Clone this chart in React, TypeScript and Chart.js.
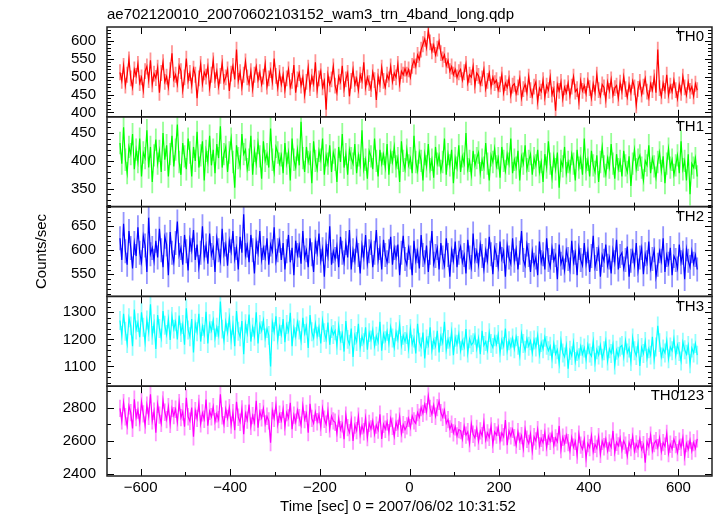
import React, { useEffect, useRef } from "react";
import { Chart, registerables } from "chart.js";

Chart.register(...registerables);

const TITLE = "ae702120010_20070602103152_wam3_trn_4band_long.qdp";
const X_LABEL = "Time [sec] 0 = 2007/06/02 10:31:52";
const Y_LABEL = "Counts/sec";

const PANEL_NAMES = ["TH0", "TH1", "TH2", "TH3", "TH0123"];
const PANEL_COLORS = ["#ff0000", "#00ff00", "#0000ff", "#00ffff", "#ff00ff"];
const PANEL_PALE = [
  "rgba(255,60,60,0.55)",
  "rgba(60,255,60,0.55)",
  "rgba(60,60,255,0.55)",
  "rgba(60,255,255,0.55)",
  "rgba(255,60,255,0.55)",
];
// 1-sigma error of each band (counts/sec)
const Y_ERR = [22, 20, 25, 35, 52];
const Y_MIN = [388, 318, 504, 1027, 2390];
const Y_MAX = [638, 479, 691, 1359, 2928];
const Y_TICKS = [
  [400, 450, 500, 550, 600],
  [350, 400, 450],
  [550, 600, 650],
  [1100, 1200, 1300],
  [2400, 2600, 2800],
];
const Y_MAJOR = [50, 50, 50, 100, 200];
const Y_MINOR = [10, 10, 10, 20, 100];

const X_MIN = -675;
const X_MAX = 675;
const X_TICKS = [-600, -400, -200, 0, 200, 400, 600];
const X_MAJOR = 200;
const X_MINOR = 100;

// light-curve bins: start time and bin width (sec)
const BIN_START = -646;
const BIN_SIZE = 4;

const TH0 = [
  512, 488, 530, 475, 505, 548, 495, 470, 520, 502,
  535, 482, 498, 462, 515, 528, 490, 545, 478, 508,
  496, 525, 455, 510, 540, 485, 500, 470, 518, 565,
  492, 505, 478, 530, 515, 462, 498, 550, 488, 510,
  475, 522, 505, 440, 495, 535, 480, 512, 500, 528,
  468, 505, 545, 490, 515, 472, 502, 538, 485, 498,
  520, 460, 508, 530, 492, 575, 488, 512, 470, 505,
  542, 498, 480, 515, 465, 505, 528, 490, 512, 478,
  500, 535, 472, 495, 518, 485, 550, 502, 468, 510,
  478, 505, 462, 495, 520, 470, 488, 532, 455, 492,
  510, 475, 498, 448, 485, 525, 468, 500, 480, 540,
  462, 495, 515, 470, 488, 408, 505, 478, 492, 528,
  475, 455, 500, 485, 530, 465, 492, 510, 445, 488,
  520, 478, 495, 462, 505, 488, 540, 470, 498, 482,
  465, 512, 490, 435, 500, 478, 525, 488, 470, 505,
  492, 528, 485, 510, 498, 535, 480, 515, 505, 522,
  505, 520, 498, 530, 545, 528, 560, 548, 575, 590,
  605, 580, 628, 595, 570, 588, 560, 578, 598, 565,
  548, 560, 530, 545, 515, 528, 505, 520, 498, 512,
  520, 490, 512, 535, 482, 505, 498, 528, 475, 510,
  502, 478, 495, 520, 465, 488, 510, 472, 498, 482,
  490, 462, 478, 505, 455, 482, 470, 495, 448, 475,
  480, 452, 470, 495, 440, 465, 478, 455, 500, 462,
  445, 472, 485, 430, 468, 458, 490, 442, 475, 462,
  498, 450, 466, 405, 478, 460, 485, 438, 470, 455,
  482, 445, 472, 500, 458, 465, 430, 488, 460, 475,
  452, 490, 468, 440, 480, 455, 505, 462, 445, 478,
  470, 435, 485, 460, 492, 448, 468, 475, 440, 483,
  458, 500, 465, 442, 478, 455, 488, 470, 420, 466,
  485, 450, 472, 495, 458, 440, 480, 462, 498, 455,
  575, 468, 445, 482, 460, 505, 448, 475, 458, 490,
  462, 438, 478, 455, 500, 470, 448, 485, 460, 472,
  445, 480, 462,
];

const TH1 = [
  432, 395, 460, 402, 378, 425, 412, 448, 385, 420,
  398, 440, 372, 415, 405, 455, 388, 425, 362, 410,
  438, 395, 418, 380, 450, 402, 428, 372, 412, 445,
  390, 420, 465, 398, 375, 432, 408, 385, 440, 415,
  372, 425, 400, 452, 388, 410, 435, 365, 418, 398,
  445, 392, 420, 378, 430, 405, 462, 388, 412, 425,
  380, 415, 440, 398, 352, 428, 405, 390, 448, 412,
  420, 385, 402, 445, 375, 418, 395, 432, 408, 368,
  435, 400, 412, 388, 458, 402, 380, 425, 415, 395,
  410, 378, 432, 395, 415, 365, 440, 402, 388, 420,
  392, 470, 405, 380, 425, 398, 412, 360, 435, 400,
  385, 418, 402, 440, 375, 410, 395, 428, 380, 415,
  402, 362, 425, 398, 448, 388, 412, 375, 420, 405,
  395, 430, 378, 410, 392, 455, 385, 402, 368, 418,
  408, 385, 440, 400, 372, 420, 395, 412, 388, 430,
  375, 415, 398, 425, 390, 405, 362, 435, 400, 385,
  420, 392, 405, 378, 445, 398, 382, 415, 400, 365,
  412, 390, 430, 385, 402, 370, 425, 395, 410, 382,
  398, 440, 375, 412, 392, 420, 360, 405, 388, 428,
  380, 408, 395, 450, 385, 400, 375, 418, 392, 405,
  415, 378, 402, 388, 432, 395, 365, 410, 398, 422,
  390, 405, 370, 425, 400, 382, 412, 395, 440, 378,
  402, 388, 418, 365, 408, 395, 428, 385, 400, 412,
  375, 405, 392, 420, 380, 398, 362, 412, 388, 435,
  395, 370, 408, 385, 415, 352, 400, 390, 425, 378,
  398, 382, 412, 395, 365, 420, 388, 405, 375, 440,
  385, 402, 372, 418, 392, 380, 410, 362, 398, 425,
  390, 375, 405, 388, 430, 395, 368, 412, 385, 400,
  372, 418, 392, 380, 408, 355, 395, 420, 385, 402,
  410, 388, 365, 400, 392, 428, 378, 405, 390, 370,
  398, 415, 382, 408, 360, 395, 422, 388, 402, 375,
  392, 410, 378, 435, 385, 400, 365, 412, 340, 395,
  388, 405, 372,
];

const TH2 = [
  625, 580, 655, 598, 570, 640, 605, 562, 615, 588,
  648, 595, 575, 630, 610, 555, 668, 592, 605, 578,
  620, 585, 645, 600, 565, 628, 612, 548, 638, 595,
  575, 615, 660, 590, 605, 570, 632, 598, 558, 622,
  600, 642, 580, 612, 565, 595, 650, 585, 610, 572,
  635, 590, 605, 555, 625, 600, 578, 645, 592, 612,
  568, 620, 598, 640, 582, 605, 560, 628, 595, 675,
  590, 610, 575, 632, 600, 552, 618, 595, 640, 580,
  605, 585, 625, 570, 612, 598, 648, 578, 600, 620,
  580, 615, 560, 598, 632, 575, 605, 548, 620, 590,
  610, 572, 640, 585, 600, 565, 625, 592, 555, 618,
  595, 635, 578, 602, 545, 612, 588, 650, 570, 598,
  582, 608, 565, 628, 595, 575, 615, 585, 642, 560,
  600, 578, 620, 590, 552, 610, 585, 632, 572, 598,
  615, 565, 595, 642, 580, 605, 560, 622, 590, 575,
  598, 628, 570, 605, 585, 612, 548, 595, 630, 582,
  570, 605, 585, 548, 620, 578, 598, 562, 632, 590,
  575, 610, 555, 595, 640, 572, 588, 605, 560, 615,
  585, 568, 625, 590, 545, 600, 578, 618, 565, 595,
  608, 575, 590, 552, 622, 585, 565, 635, 580, 598,
  570, 612, 588, 560, 600, 578, 628, 592, 550, 605,
  590, 565, 618, 582, 598, 545, 610, 585, 572, 625,
  578, 602, 560, 595, 640, 580, 568, 612, 590, 555,
  598, 570, 585, 548, 618, 575, 592, 560, 625, 580,
  565, 605, 578, 590, 540, 612, 572, 585, 558, 600,
  582, 560, 620, 575, 595, 548, 605, 580, 568, 615,
  572, 598, 555, 588, 630, 565, 582, 602, 545, 590,
  578, 612, 568, 585, 552, 600, 575, 622, 560, 588,
  595, 562, 580, 608, 545, 578, 598, 570, 615, 558,
  585, 605, 550, 592, 575, 618, 562, 582, 600, 545,
  570, 598, 578, 625, 555, 590, 572, 605, 548, 588,
  580, 562, 612, 575, 595, 540, 602, 578, 565, 598,
  572, 590, 560,
];

const TH3 = [
  1270, 1215, 1295, 1230, 1185, 1280, 1250, 1175, 1310, 1235,
  1262, 1208, 1300, 1245, 1190, 1272, 1228, 1330, 1215, 1258,
  1165, 1290, 1240, 1205, 1305, 1252, 1218, 1275, 1198, 1285,
  1238, 1265, 1200, 1288, 1225, 1255, 1180, 1315, 1235, 1210,
  1275, 1152, 1260, 1228, 1295, 1192, 1248, 1218, 1302, 1185,
  1258, 1232, 1270, 1205, 1245, 1215, 1340, 1238, 1195, 1265,
  1225, 1280, 1198, 1252, 1175, 1305, 1230, 1210, 1268, 1145,
  1258, 1222, 1292, 1192, 1245, 1212, 1300, 1185, 1255, 1232,
  1270, 1205, 1240, 1215, 1100, 1262, 1228, 1285, 1198, 1248,
  1218, 1275, 1190, 1255, 1230, 1298, 1175, 1242, 1210, 1265,
  1235, 1195, 1280, 1222, 1250, 1168, 1290, 1228, 1205, 1258,
  1212, 1245, 1185, 1270, 1225, 1200, 1262, 1180, 1240, 1218,
  1232, 1178, 1250, 1195, 1222, 1155, 1268, 1200, 1182, 1240,
  1135, 1215, 1192, 1258, 1170, 1210, 1188, 1245, 1162, 1225,
  1198, 1235, 1175, 1212, 1190, 1265, 1158, 1220, 1195, 1230,
  1185, 1245, 1205, 1170, 1228, 1198, 1255, 1178, 1215, 1192,
  1218, 1165, 1240, 1182, 1205, 1148, 1258, 1190, 1172, 1225,
  1130, 1202, 1178, 1245, 1160, 1198, 1175, 1232, 1152, 1212,
  1188, 1265, 1162, 1200, 1175, 1228, 1142, 1208, 1182, 1220,
  1158, 1195, 1172, 1238, 1150, 1202, 1180, 1188, 1215, 1165,
  1205, 1145, 1232, 1178, 1192, 1160, 1225, 1185, 1170, 1210,
  1182, 1218, 1150, 1198, 1175, 1240, 1158, 1195, 1172, 1205,
  1165, 1210, 1178, 1138, 1222, 1185, 1160, 1202, 1175, 1195,
  1150, 1198, 1172, 1215, 1145, 1188, 1165, 1208, 1178, 1158,
  1175, 1128, 1185, 1145, 1162, 1110, 1195, 1150, 1135, 1178,
  1092, 1160, 1140, 1188, 1118, 1155, 1132, 1175, 1145, 1168,
  1125, 1180, 1150, 1138, 1192, 1115, 1162, 1142, 1178, 1130,
  1158, 1195, 1120, 1165, 1148, 1182, 1105, 1160, 1138, 1172,
  1178, 1135, 1195, 1150, 1168, 1118, 1205, 1158, 1140, 1185,
  1102, 1170, 1148, 1192, 1130, 1165, 1142, 1210, 1125, 1172,
  1250, 1188, 1135, 1165, 1150, 1195, 1128, 1172, 1158, 1202,
  1140, 1180, 1155, 1120, 1190, 1162, 1145, 1178, 1110, 1168,
  1150, 1185, 1142,
];

const TH0123 = [
  2795, 2720, 2830, 2745, 2690, 2810, 2770, 2675, 2850, 2740,
  2785, 2710, 2835, 2762, 2695, 2815, 2748, 2880, 2720, 2778,
  2650, 2820, 2755, 2705, 2845, 2772, 2728, 2805, 2700, 2795,
  2752, 2790, 2712, 2830, 2740, 2775, 2685, 2858, 2745, 2718,
  2800, 2625, 2782, 2735, 2825, 2702, 2768, 2730, 2848, 2692,
  2778, 2745, 2805, 2715, 2762, 2728, 2880, 2750, 2698, 2790,
  2735, 2800, 2695, 2770, 2665, 2835, 2742, 2712, 2792, 2640,
  2765, 2725, 2818, 2688, 2752, 2710, 2840, 2680, 2775, 2738,
  2795, 2702, 2748, 2720, 2590, 2782, 2735, 2815, 2698, 2760,
  2722, 2790, 2685, 2770, 2738, 2828, 2670, 2755, 2712, 2785,
  2740, 2695, 2810, 2728, 2765, 2650, 2822, 2735, 2705, 2772,
  2715, 2758, 2682, 2795, 2730, 2700, 2780, 2672, 2748, 2720,
  2712, 2645, 2735, 2668, 2702, 2610, 2755, 2680, 2650, 2725,
  2600, 2695, 2662, 2748, 2635, 2690, 2655, 2738, 2620, 2705,
  2672, 2720, 2640, 2695, 2665, 2760, 2612, 2700, 2670, 2715,
  2650, 2735, 2688, 2628, 2712, 2675, 2748, 2642, 2698, 2668,
  2690, 2735, 2680, 2750, 2720, 2705, 2770, 2742, 2800, 2765,
  2820, 2775, 2870, 2795, 2760, 2815, 2748, 2800, 2838, 2770,
  2742, 2785, 2705, 2728, 2672, 2700, 2648, 2685, 2630, 2668,
  2662, 2610, 2688, 2635, 2655, 2585, 2702, 2640, 2618, 2675,
  2598, 2660, 2632, 2712, 2605, 2648, 2622, 2690, 2580, 2655,
  2635, 2682, 2600, 2648, 2625, 2725, 2575, 2660, 2630, 2670,
  2620, 2575, 2655, 2598, 2632, 2555, 2670, 2610, 2585, 2642,
  2540, 2625, 2600, 2668, 2570, 2615, 2590, 2652, 2560, 2628,
  2598, 2645, 2572, 2618, 2595, 2690, 2548, 2622, 2585, 2635,
  2590, 2540, 2620, 2562, 2598, 2515, 2640, 2575, 2550, 2608,
  2495, 2585, 2560, 2632, 2535, 2580, 2555, 2625, 2520, 2598,
  2565, 2612, 2540, 2588, 2562, 2660, 2530, 2592, 2570, 2618,
  2545, 2600, 2575, 2510, 2590, 2560, 2628, 2538, 2582, 2555,
  2612, 2548, 2578, 2470, 2595, 2565, 2635, 2540, 2585, 2602,
  2560, 2618, 2535, 2590, 2568, 2645, 2525, 2580, 2552, 2610,
  2578, 2530, 2598, 2562, 2620, 2505, 2585, 2550, 2605, 2540,
  2590, 2555, 2612,
];

const SERIES = [TH0, TH1, TH2, TH3, TH0123];

const FONT_FAMILY = "'Liberation Sans', Arial, Helvetica, sans-serif";
const FONT_SIZE = 15;

const fmt = (v: number) => String(v).replace("-", "\u2212");

// vertical error bars drawn beneath each light curve
const errorBars = {
  id: "errorBars",
  beforeDatasetsDraw(chart: any) {
    const ctx = chart.ctx as CanvasRenderingContext2D;
    const area = chart.chartArea;
    const xs = chart.scales.x;
    SERIES.forEach((vals, p) => {
      const ys = chart.scales["y" + p];
      ctx.save();
      ctx.beginPath();
      ctx.rect(area.left, ys.top, area.right - area.left, ys.bottom - ys.top);
      ctx.clip();
      ctx.strokeStyle = PANEL_PALE[p];
      ctx.lineWidth = 1.8;
      ctx.beginPath();
      vals.forEach((v, i) => {
        const px = xs.getPixelForValue(BIN_START + i * BIN_SIZE);
        ctx.moveTo(px, ys.getPixelForValue(v - Y_ERR[p]));
        ctx.lineTo(px, ys.getPixelForValue(v + Y_ERR[p]));
      });
      ctx.stroke();
      ctx.restore();
    });
  },
};

const qdpFrame = {
  id: "qdpFrame",
  afterDatasetsDraw(chart: any) {
    const ctx = chart.ctx as CanvasRenderingContext2D;
    const area = chart.chartArea;
    const xs = chart.scales.x;
    ctx.save();
    ctx.strokeStyle = "#000";
    ctx.fillStyle = "#000";
    ctx.font = `${FONT_SIZE}px ${FONT_FAMILY}`;
    PANEL_NAMES.forEach((name, p) => {
      const ys = chart.scales["y" + p];
      const top = ys.top;
      const bottom = ys.bottom;
      ctx.lineWidth = 1;
      ctx.strokeStyle = "#000";
      ctx.beginPath();
      const yStart = Math.ceil(Y_MIN[p] / Y_MINOR[p]) * Y_MINOR[p];
      for (let v = yStart; v <= Y_MAX[p]; v += Y_MINOR[p]) {
        const major = Math.abs(v % Y_MAJOR[p]) < 1e-6;
        const len = major ? 7 : 4;
        const py = Math.round(ys.getPixelForValue(v)) + 0.5;
        ctx.moveTo(area.left, py);
        ctx.lineTo(area.left + len, py);
        ctx.moveTo(area.right, py);
        ctx.lineTo(area.right - len, py);
      }
      const xStart = Math.ceil(X_MIN / X_MINOR) * X_MINOR;
      for (let v = xStart; v <= X_MAX; v += X_MINOR) {
        const major = Math.abs(v % X_MAJOR) < 1e-6;
        const len = major ? 7 : 4;
        const px = Math.round(xs.getPixelForValue(v)) + 0.5;
        ctx.moveTo(px, top);
        ctx.lineTo(px, top + len);
        ctx.moveTo(px, bottom);
        ctx.lineTo(px, bottom - len);
      }
      ctx.stroke();
      ctx.lineWidth = 1.5;
      ctx.strokeStyle = "#222";
      ctx.strokeRect(area.left, top, area.right - area.left, bottom - top);
      ctx.textAlign = "right";
      ctx.textBaseline = "middle";
      ctx.fillText(name, area.right - 8, top + 10);
    });
    ctx.textAlign = "left";
    ctx.textBaseline = "middle";
    ctx.fillText(TITLE, area.left, 15);
    ctx.textAlign = "center";
    ctx.fillText(X_LABEL, 398, 507);
    ctx.save();
    ctx.translate(42, (area.top + area.bottom) / 2);
    ctx.rotate(-Math.PI / 2);
    ctx.fillText(Y_LABEL, 0, 0);
    ctx.restore();
    ctx.restore();
  },
};

export default function App() {
  const ref = useRef<HTMLCanvasElement | null>(null);

  useEffect(() => {
    if (!ref.current) return;
    const tickFont = { family: FONT_FAMILY, size: FONT_SIZE };
    const scales: any = {
      x: {
        type: "linear",
        position: "bottom",
        min: X_MIN,
        max: X_MAX,
        grid: { display: false, drawTicks: false },
        border: { display: false },
        afterBuildTicks: (s: any) => {
          s.ticks = X_TICKS.map((v) => ({ value: v }));
        },
        ticks: {
          autoSkip: false,
          maxRotation: 0,
          padding: 3,
          color: "#000",
          font: tickFont,
          callback: (v: any) => fmt(Number(v)),
        },
        afterFit: (s: any) => {
          s.height = 40;
        },
      },
    };
    for (let p = PANEL_NAMES.length - 1; p >= 0; p--) {
      const ticksForPanel = Y_TICKS[p];
      scales["y" + p] = {
        type: "linear",
        position: "left",
        stack: "panels",
        stackWeight: 1,
        weight: PANEL_NAMES.length - p,
        min: Y_MIN[p],
        max: Y_MAX[p],
        grid: { display: false, drawTicks: false },
        border: { display: false },
        afterBuildTicks: (s: any) => {
          s.ticks = ticksForPanel.map((v) => ({ value: v }));
        },
        ticks: {
          autoSkip: false,
          padding: 11,
          color: "#000",
          font: tickFont,
          callback: (v: any) => fmt(Number(v)),
        },
        afterFit: (s: any) => {
          s.width = 107;
        },
      };
    }
    const datasets: any[] = [];
    SERIES.forEach((vals, p) => {
      const pts = vals.map((v, i) => ({ x: BIN_START + i * BIN_SIZE, y: v }));
      datasets.push({
        label: PANEL_NAMES[p],
        data: pts,
        yAxisID: "y" + p,
        borderColor: PANEL_COLORS[p],
        borderWidth: 1.2,
        pointRadius: 0,
        tension: 0,
        fill: false,
      });
    });
    const chart = new Chart(ref.current, {
      type: "line",
      data: { datasets },
      options: {
        responsive: false,
        animation: false,
        events: [],
        layout: { padding: { top: 27, right: 5, left: 0, bottom: 0 } },
        plugins: { legend: { display: false }, tooltip: { enabled: false }, title: { display: false } },
        scales,
      },
      plugins: [errorBars, qdpFrame],
    } as any);
    return () => chart.destroy();
  }, []);

  return (
    <div style={{ position: "absolute", left: 0, top: 0, width: 717, height: 516, background: "#fff" }}>
      <canvas ref={ref} width={717} height={516} style={{ display: "block" }} />
    </div>
  );
}
